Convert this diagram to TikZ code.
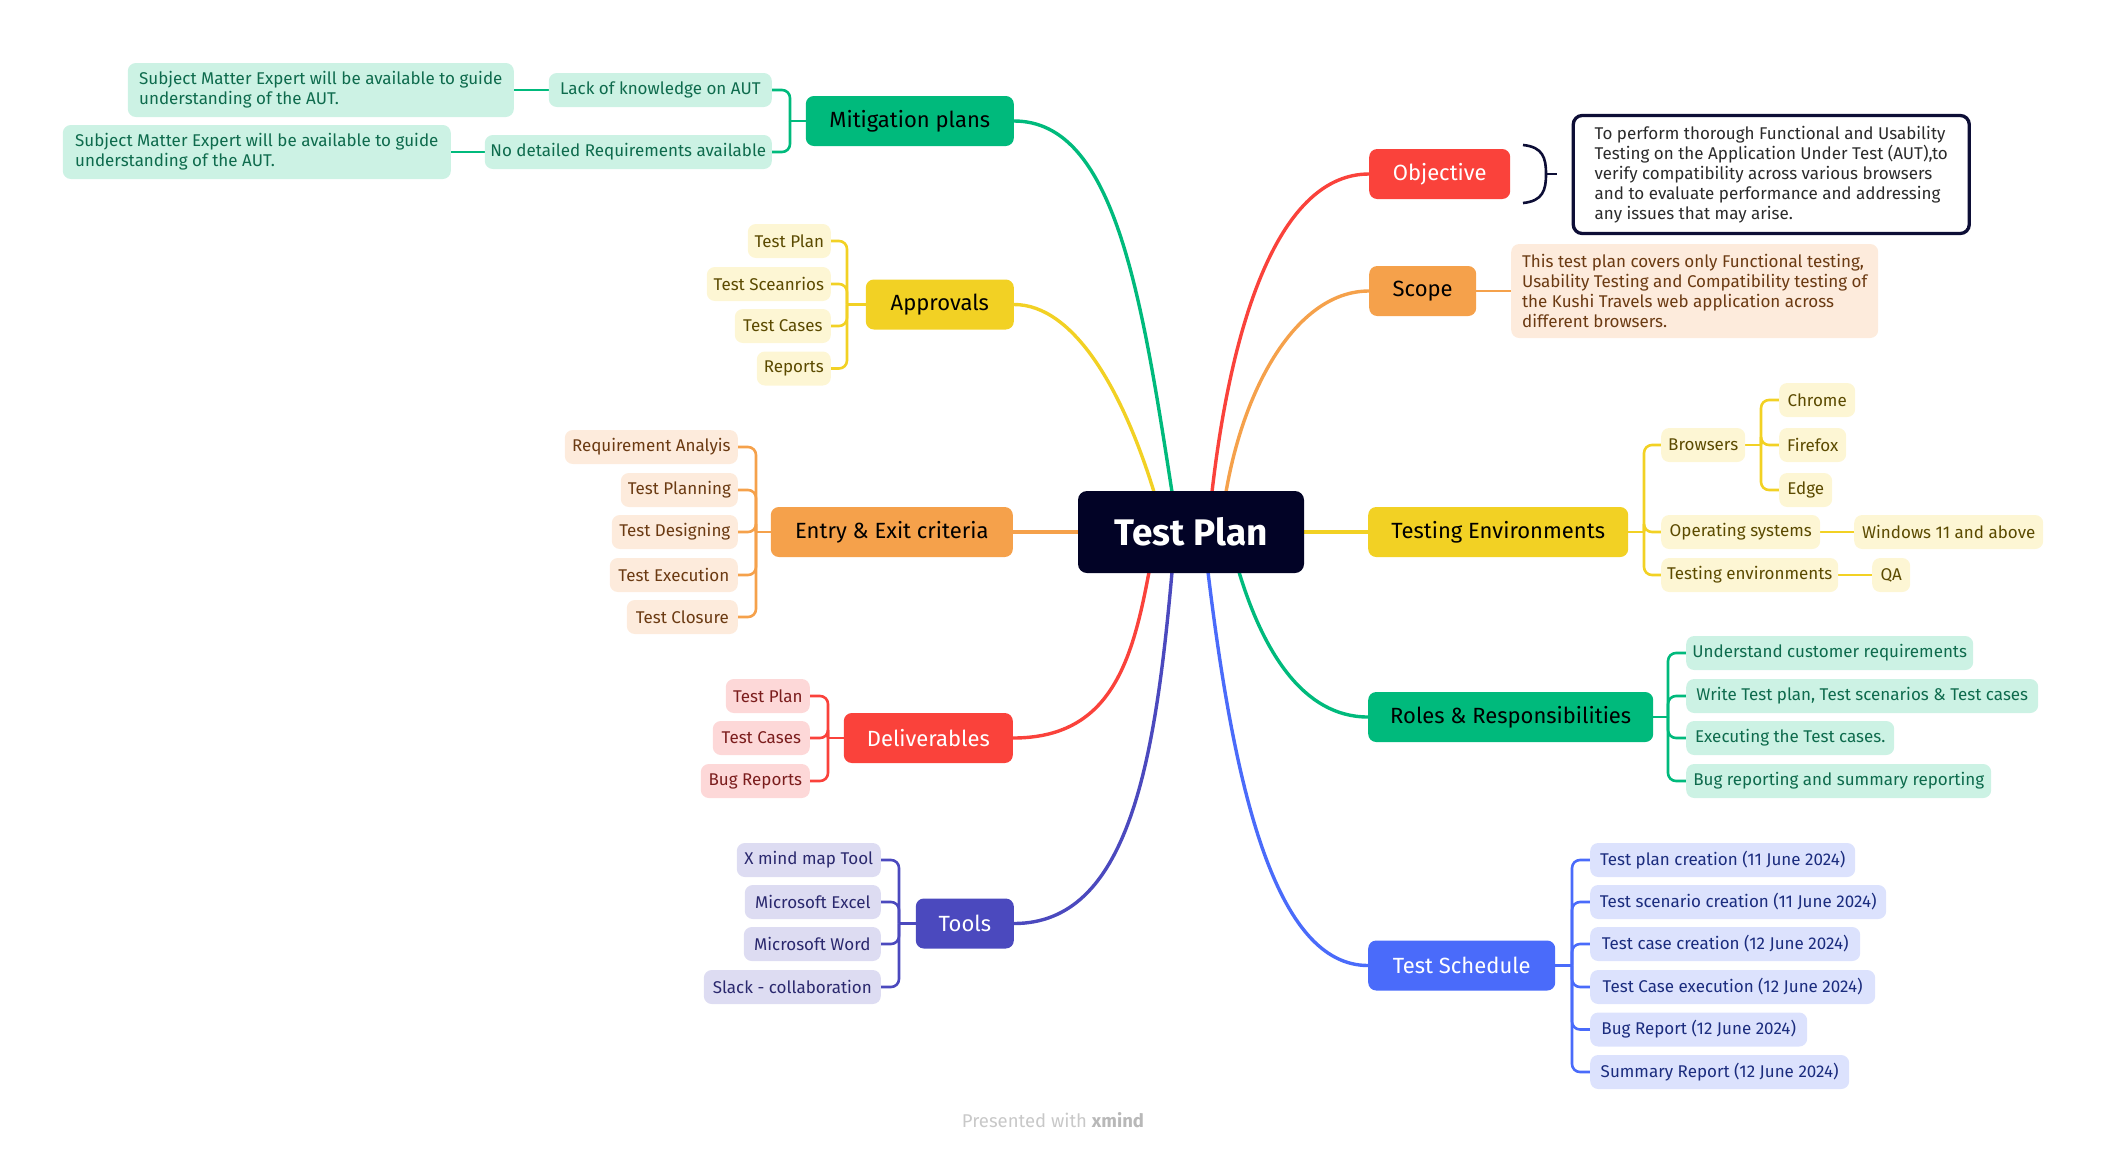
\documentclass[tikz,border=0pt]{standalone}
\usepackage{fontspec}
\setmainfont{Fira Sans}
\usetikzlibrary{backgrounds,calc}
\definecolor{cGreen}{HTML}{00BA7C}
\definecolor{cYellow}{HTML}{F2D124}
\definecolor{cOrange}{HTML}{F5A14B}
\definecolor{cRed}{HTML}{FA423B}
\definecolor{cPurple}{HTML}{4B49BE}
\definecolor{cBlue}{HTML}{4A6BFA}
\definecolor{cCenter}{HTML}{020326}
\definecolor{cNavy}{HTML}{0D0E36}
\definecolor{cDark}{HTML}{2B2B2B}
\definecolor{gLeaf}{HTML}{CCF2E4}\definecolor{gText}{HTML}{0E6B4D}
\definecolor{yLeaf}{HTML}{FDF6D4}\definecolor{yText}{HTML}{5B4A00}
\definecolor{oLeaf}{HTML}{FDEBDC}\definecolor{oText}{HTML}{6B3A12}
\definecolor{rLeaf}{HTML}{FDD8D8}\definecolor{rText}{HTML}{7B1D1D}
\definecolor{pLeaf}{HTML}{DDDCF2}\definecolor{pText}{HTML}{2A286E}
\definecolor{bLeaf}{HTML}{DCE2FD}\definecolor{bText}{HTML}{1B2C7E}
\definecolor{cFoot}{HTML}{C8C8C8}
\definecolor{cFootB}{HTML}{B8B8B8}
\begin{document}
\begin{tikzpicture}[x=1pt,y=-1pt,
  mainbox/.style={rounded corners=8pt, minimum height=50pt, inner sep=0pt, font=\fontsize{22}{26}\selectfont},
  leafbox/.style={rounded corners=8pt, minimum height=34pt, inner xsep=4pt, inner ysep=0pt, font=\fontsize{17}{20}\selectfont},
  gleaf/.style={leafbox, fill=gLeaf, text=gText},
  yleaf/.style={leafbox, fill=yLeaf, text=yText},
  oleaf/.style={leafbox, fill=oLeaf, text=oText},
  rleaf/.style={leafbox, fill=rLeaf, text=rText},
  pleaf/.style={leafbox, fill=pLeaf, text=pText},
  bleaf/.style={leafbox, fill=bLeaf, text=bText},
  conn/.style={line width=3.4pt},
  sub/.style={line width=2.6pt},
  elbow/.style={line width=2.6pt, rounded corners=8pt},
]
\useasboundingbox (0,0) rectangle (2106,1152);

% central
\node[fill=cCenter, text=white, rounded corners=9pt, minimum width=226pt, minimum height=82pt, inner sep=0pt, font=\bfseries\fontsize{37}{41}\selectfont] (tp) at (1191,532) {Test Plan};

% ---------- left side ----------
\node[mainbox, fill=cGreen, minimum width=208pt, anchor=east] (mit) at (1014,121) {Mitigation plans};
\node[gleaf, minimum width=223pt, anchor=east] (lack) at (772,90) {Lack of knowledge on AUT};
\node[gleaf, minimum width=287pt, anchor=east] (nodet) at (772,152) {No detailed Requirements available};
\node[gleaf, minimum width=386pt, minimum height=54pt, align=left, anchor=east] (sme1) at (514,90) {Subject Matter Expert will be available to guide\\understanding of the AUT.};
\node[gleaf, minimum width=388pt, minimum height=54pt, align=left, anchor=east] (sme2) at (451,152) {Subject Matter Expert will be available to guide\\understanding of the AUT.};

\node[mainbox, fill=cYellow, minimum width=148pt, anchor=east] (appr) at (1014,304.5) {Approvals};
\node[yleaf, minimum width=83pt, anchor=east] (a1) at (831,241) {Test Plan};
\node[yleaf, minimum width=124pt, anchor=east] (a2) at (831,284) {Test Sceanrios};
\node[yleaf, minimum width=96pt, anchor=east] (a3) at (831,326) {Test Cases};
\node[yleaf, minimum width=74pt, anchor=east] (a4) at (831,368.5) {Reports};

\node[mainbox, fill=cOrange, minimum width=242pt, anchor=east] (entry) at (1013,532) {Entry \& Exit criteria};
\node[oleaf, minimum width=173pt, anchor=east] (e1) at (738,447) {Requirement Analyis};
\node[oleaf, minimum width=117pt, anchor=east] (e2) at (738,490) {Test Planning};
\node[oleaf, minimum width=126pt, anchor=east] (e3) at (738,532) {Test Designing};
\node[oleaf, minimum width=128pt, anchor=east] (e4) at (738,575) {Test Execution};
\node[oleaf, minimum width=111pt, anchor=east] (e5) at (738,617) {Test Closure};

\node[mainbox, fill=cRed, text=white, minimum width=169pt, anchor=east] (deliv) at (1013,738) {Deliverables};
\node[rleaf, minimum width=84pt, anchor=east] (d1) at (810,696) {Test Plan};
\node[rleaf, minimum width=97pt, anchor=east] (d2) at (810,738) {Test Cases};
\node[rleaf, minimum width=109pt, anchor=east] (d3) at (810,781) {Bug Reports};

\node[mainbox, fill=cPurple, text=white, minimum width=98pt, anchor=east] (tools) at (1014,923.5) {Tools};
\node[pleaf, minimum width=144pt, anchor=east] (t1) at (881,860) {X mind map Tool};
\node[pleaf, minimum width=136pt, anchor=east] (t2) at (881,902) {Microsoft Excel};
\node[pleaf, minimum width=137pt, anchor=east] (t3) at (881,944) {Microsoft Word};
\node[pleaf, minimum width=177pt, anchor=east] (t4) at (881,987) {Slack - collaboration};

% ---------- right side ----------
\node[mainbox, fill=cRed, text=white, minimum width=141pt, anchor=west] (obj) at (1369,174) {Objective};
\node[draw=cNavy, line width=3.3pt, rounded corners=9pt, fill=white, text=cDark, minimum width=396pt, minimum height=118pt, inner sep=0pt, align=left, font=\fontsize{17}{20}\selectfont, anchor=west] (objnote) at (1571.6,174.5) {To perform thorough Functional and Usability\\Testing on the Application Under Test (AUT),to\\verify compatibility across various browsers\\and to evaluate performance and addressing\\any issues that may arise.};

\node[mainbox, fill=cOrange, minimum width=107pt, anchor=west] (scope) at (1369,291) {Scope};
\node[leafbox, fill=oLeaf, text=oText, minimum width=367pt, minimum height=94pt, align=left, anchor=west] (scopenote) at (1511,291) {This test plan covers only Functional testing,\\Usability Testing and Compatibility testing of\\the Kushi Travels web application across\\different browsers.};

\node[mainbox, fill=cYellow, minimum width=260pt, anchor=west] (tenv) at (1368,532) {Testing Environments};
\node[yleaf, minimum width=84pt, anchor=west] (brw) at (1661,445) {Browsers};
\node[yleaf, minimum width=159pt, anchor=west] (os) at (1661,532) {Operating systems};
\node[yleaf, minimum width=177pt, anchor=west] (tenvs) at (1661,575) {Testing environments};
\node[yleaf, minimum width=76pt, anchor=west] (chrome) at (1779,400) {Chrome};
\node[yleaf, minimum width=67pt, anchor=west] (firefox) at (1779,445) {Firefox};
\node[yleaf, minimum width=53pt, anchor=west] (edge) at (1779,490) {Edge};
\node[yleaf, minimum width=189pt, anchor=west] (win) at (1854,532) {Windows 11 and above};
\node[yleaf, minimum width=38pt, anchor=west] (qa) at (1872,575) {QA};

\node[mainbox, fill=cGreen, minimum width=285pt, anchor=west] (roles) at (1368,717) {Roles \& Responsibilities};
\node[gleaf, minimum width=287pt, anchor=west] (r1) at (1686,653) {Understand customer requirements};
\node[gleaf, minimum width=352pt, anchor=west] (r2) at (1686,696) {Write Test plan, Test scenarios \& Test cases};
\node[gleaf, minimum width=208pt, anchor=west] (r3) at (1686,738) {Executing the Test cases.};
\node[gleaf, minimum width=305pt, anchor=west] (r4) at (1686,781) {Bug reporting and summary reporting};

\node[mainbox, fill=cBlue, text=white, minimum width=187pt, anchor=west] (sched) at (1368,965.5) {Test Schedule};
\node[bleaf, minimum width=265pt, anchor=west] (s1) at (1590,860) {Test plan creation (11 June 2024)};
\node[bleaf, minimum width=296pt, anchor=west] (s2) at (1590,902) {Test scenario creation (11 June 2024)};
\node[bleaf, minimum width=270pt, anchor=west] (s3) at (1590,944) {Test case creation (12 June 2024)};
\node[bleaf, minimum width=285pt, anchor=west] (s4) at (1590,987) {Test Case execution (12 June 2024)};
\node[bleaf, minimum width=217pt, anchor=west] (s5) at (1590,1029.5) {Bug Report (12 June 2024)};
\node[bleaf, minimum width=259pt, anchor=west] (s6) at (1590,1072) {Summary Report (12 June 2024)};

% footer
\node[font=\fontsize{18.5}{22}\selectfont, text=cFoot, inner sep=0pt] (foot) at (1053,1120) {Presented with {\color{cFootB}\bfseries xmind}};

% brace of objective
\coordinate (brA) at (1523,145);
\coordinate (brM) at (1546,174);
\coordinate (brB) at (1523,203);
\coordinate (brT) at (1557,174);
\draw[cNavy, line width=2.6pt] (brA) .. controls (1543,147) and (1546,158) .. (brM) .. controls (1546,190) and (1543,201) .. (brB);
\draw[cNavy, line width=2.6pt] (brM) -- (brT);

% bracket points
\coordinate (bMit) at (790,121);
\coordinate (bAppr) at (847,304.5);
\coordinate (bEntry) at (756,532);
\coordinate (bDeliv) at (828,738);
\coordinate (bTools) at (899,923.5);
\coordinate (bTenv) at (1644,532);
\coordinate (bBrw) at (1761,445);
\coordinate (bRoles) at (1668,717);
\coordinate (bSched) at (1572,965.5);

% exit points on central node
\coordinate (xMit) at (1172,492);
\coordinate (xAppr) at (1154,492);
\coordinate (xObj) at (1212,492);
\coordinate (xScope) at (1226,492);
\coordinate (xDeliv) at (1149,572);
\coordinate (xTools) at (1172,572);
\coordinate (xSched) at (1208,572);
\coordinate (xRoles) at (1239,572);

\begin{scope}[on background layer]
% main curves
\draw[conn, cGreen] (xMit) .. controls +(-31,-200) and +(100,0) .. (mit.east);
\draw[conn, cYellow] (xAppr) .. controls +(-31,-101) and +(60,0) .. (appr.east);
\draw[conn, cRed] (xObj) .. controls +(20,-174) and +(-89,0) .. (obj.west);
\draw[conn, cOrange] (xScope) .. controls +(19,-110) and +(-70,0) .. (scope.west);
\draw[conn, cRed] (xDeliv) .. controls +(-17,91) and +(97,0) .. (deliv.east);
\draw[conn, cPurple] (xTools) .. controls +(-17,192) and +(114,0) .. (tools.east);
\draw[conn, cBlue] (xSched) .. controls +(26,216) and +(-93,0) .. (sched.west);
\draw[conn, cGreen] (xRoles) .. controls +(24,79) and +(-65,0) .. (roles.west);
\draw[conn, cOrange] (tp.west) -- (entry.east);
\draw[conn, cYellow] (tp.east) -- (tenv.west);

% mitigation
\draw[sub, cGreen] (mit.west) -- (bMit);
\foreach \c in {lack,nodet} \draw[elbow, cGreen] (\c.east) -| (bMit);
\draw[sub, cGreen] (sme1.east) -- (lack.west);
\draw[sub, cGreen] (sme2.east) -- (nodet.west);
% approvals
\draw[sub, cYellow] (appr.west) -- (bAppr);
\foreach \c in {a1,a2,a3,a4} \draw[elbow, cYellow] (\c.east) -| (bAppr);
% entry
\draw[sub, cOrange] (entry.west) -- (bEntry);
\foreach \c in {e1,e2,e3,e4,e5} \draw[elbow, cOrange] (\c.east) -| (bEntry);
% deliverables
\draw[sub, cRed] (deliv.west) -- (bDeliv);
\foreach \c in {d1,d2,d3} \draw[elbow, cRed] (\c.east) -| (bDeliv);
% tools
\draw[sub, cPurple] (tools.west) -- (bTools);
\foreach \c in {t1,t2,t3,t4} \draw[elbow, cPurple] (\c.east) -| (bTools);
% scope
\draw[sub, cOrange] (scope.east) -- (scopenote.west);
% testing environments
\draw[sub, cYellow] (tenv.east) -- (bTenv);
\foreach \c in {brw,os,tenvs} \draw[elbow, cYellow] (\c.west) -| (bTenv);
\draw[sub, cYellow] (brw.east) -- (bBrw);
\foreach \c in {chrome,firefox,edge} \draw[elbow, cYellow] (\c.west) -| (bBrw);
\draw[sub, cYellow] (os.east) -- (win.west);
\draw[sub, cYellow] (tenvs.east) -- (qa.west);
% roles
\draw[sub, cGreen] (roles.east) -- (bRoles);
\foreach \c in {r1,r2,r3,r4} \draw[elbow, cGreen] (\c.west) -| (bRoles);
% schedule
\draw[sub, cBlue] (sched.east) -- (bSched);
\foreach \c in {s1,s2,s3,s4,s5,s6} \draw[elbow, cBlue] (\c.west) -| (bSched);
\end{scope}
\end{tikzpicture}
\end{document}
